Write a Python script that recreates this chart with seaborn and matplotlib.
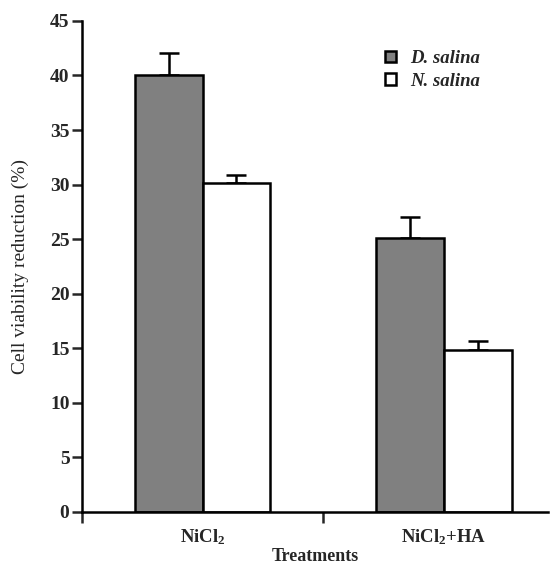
import numpy as np
import pandas as pd
import matplotlib
matplotlib.use('Agg')
import matplotlib.pyplot as plt
from matplotlib.patches import Patch
import seaborn as sns

treatments = ['NiCl$_2$', 'NiCl$_2$+HA']
species = ['D. salina', 'N. salina']
d_salina = [40.0, 25.1]
n_salina = [30.1, 14.8]
d_salina_err = [2.1, 1.9]
n_salina_err = [0.8, 0.9]
colors = ['#808080', '#ffffff']

df = pd.DataFrame({
    'treatment': treatments * 2,
    'species': [species[0]] * 2 + [species[1]] * 2,
    'value': d_salina + n_salina,
    'err': d_salina_err + n_salina_err,
})

sns.set_style('white')
plt.rcParams['font.family'] = ['Liberation Serif', 'DejaVu Serif']
plt.rcParams['mathtext.fontset'] = 'custom'
plt.rcParams['mathtext.rm'] = 'Liberation Serif'
plt.rcParams['mathtext.default'] = 'regular'

fig = plt.figure(figsize=(5.5, 5.65), dpi=100)
ax = fig.add_axes([0.149, 0.094, 0.847, 0.869])

sns.barplot(data=df, x='treatment', y='value', hue='species', order=treatments,
            hue_order=species, palette=colors, width=0.56, errorbar=None,
            edgecolor='black', linewidth=1.8, ax=ax, legend=False, zorder=2)

# error bars, upper side only
offsets = [-0.14, 0.14]
for k, (vals, errs) in enumerate([(d_salina, d_salina_err), (n_salina, n_salina_err)]):
    xs = np.arange(len(treatments)) + offsets[k]
    ax.errorbar(xs, vals, yerr=[np.zeros(len(errs)), errs], fmt='none',
                ecolor='black', elinewidth=1.8, capsize=7, capthick=1.8, zorder=1)

ax.set_ylim(0, 45)
ax.set_xlim(-0.49, 1.43)
ax.set_yticks(range(0, 46, 5))
ax.set_yticklabels([str(v) for v in range(0, 46, 5)], fontweight='bold', fontsize=14)
ax.set_xticks([0, 1])
ax.set_xticklabels(treatments, fontsize=13.5, fontweight='bold')
ax.set_xticks([-0.5, 0.5], minor=True)
ax.tick_params(axis='x', which='major', length=0, pad=11)
ax.tick_params(axis='x', which='minor', length=8, width=1.8, direction='out', bottom=True)
ax.tick_params(axis='y', length=7, width=1.8, direction='out', left=True, pad=2)

for s in ['top', 'right']:
    ax.spines[s].set_visible(False)
for s in ['left', 'bottom']:
    ax.spines[s].set_linewidth(1.8)
    ax.spines[s].set_color('black')

ax.set_xlabel('Treatments', fontsize=13, fontweight='bold', labelpad=1)
ax.set_ylabel('Cell viability reduction (%)', fontsize=14, labelpad=15)

handles = [Patch(facecolor=c, edgecolor='black', linewidth=1.8) for c in colors]
ax.legend(handles, species, loc='upper left', bbox_to_anchor=(0.615, 0.975), frameon=False,
          handlelength=0.55, handleheight=0.55, handletextpad=0.8, labelspacing=0.3,
          prop={'style': 'italic', 'weight': 'bold', 'size': 13.5})

fig.savefig('out.png', dpi=100)
